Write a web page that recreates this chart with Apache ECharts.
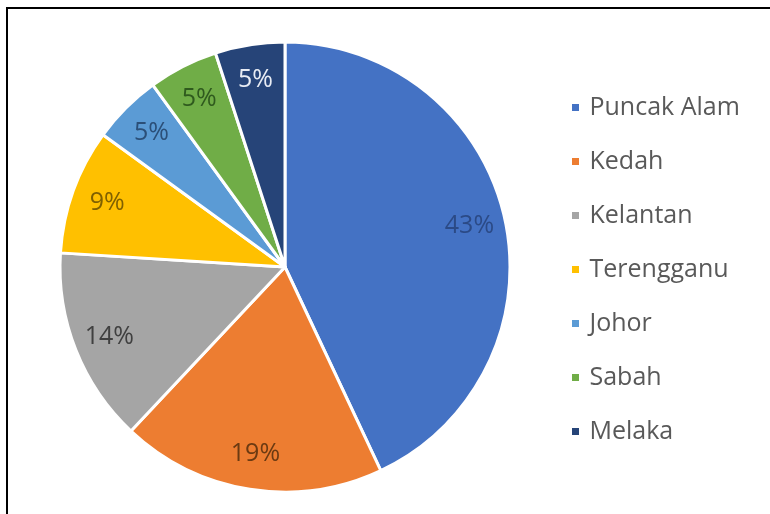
<!DOCTYPE html>
<html><head><meta charset="utf-8">
<script src="https://cdn.jsdelivr.net/npm/echarts@6/dist/echarts.min.js"></script>
<style>html,body{margin:0;padding:0;background:#fff;}#frame{position:absolute;left:6px;top:7px;width:780px;height:520px;border:2px solid #000;box-sizing:border-box;}#c{position:absolute;left:0;top:0;width:770px;height:514px;}</style>
</head><body>
<div id="frame"></div>
<div id="c"></div>
<script>
const categories = ['Puncak Alam','Kedah','Kelantan','Terengganu','Johor','Sabah','Melaka'];
const values = [43, 19, 14, 9, 5, 5, 5];
const colors = ['#4472C4','#ED7D31','#A5A5A5','#FFC000','#5B9BD5','#70AD47','#264478'];
const labelColors = ['#2B4A86','#6B3A12','#404040','#7F6000','#2B4F78','#2F5A1E','#E8ECF4'];

const chart = echarts.init(document.getElementById('c'), null, {renderer:'canvas'});
const sliceData = categories.map((n,i)=>({name:n, value:values[i], itemStyle:{color:colors[i]}}));
const labelData = categories.map((n,i)=>({name:n, value:values[i], label:{color:labelColors[i]}}));
chart.setOption({
  animation:false,
  color: colors,
  legend:{
    orient:'vertical', left:565, top:90, itemGap:29, itemWidth:18, itemHeight:9,
    icon:'path://M0,0h9v9h-9z',
    textStyle:{fontFamily:'Open Sans', fontSize:25, lineHeight:24, color:'#595959'},
    data: categories
  },
  series:[
    {type:'pie', center:[285,267], radius:[0,225], startAngle:90, clockwise:true,
     label:{show:false}, labelLine:{show:false}, silent:true,
     itemStyle:{borderColor:'#fff', borderWidth:3},
     data: sliceData},
    {type:'pie', center:[285,267], radius:[140,232], startAngle:90, clockwise:true,
     silent:true, legendHoverLink:false,
     itemStyle:{color:'rgba(0,0,0,0)'},
     label:{show:true, position:'inside', formatter:'{d}%', fontFamily:'Open Sans', fontSize:25},
     labelLine:{show:false},
     data: labelData}
  ]
});
</script>
</body></html>
